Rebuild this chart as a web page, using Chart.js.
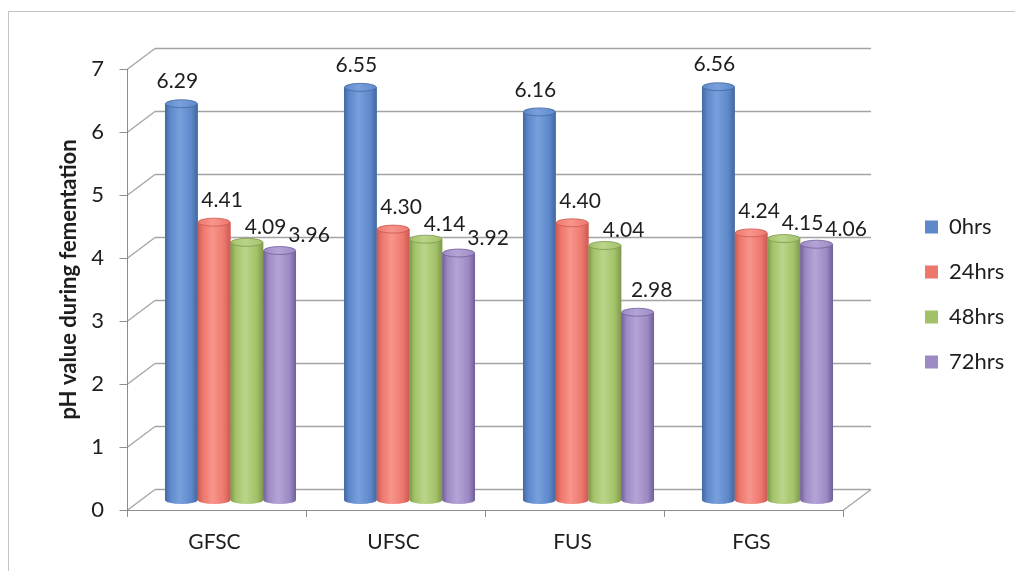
<!DOCTYPE html>
<html>
<head>
<meta charset="utf-8">
<script src="https://cdn.jsdelivr.net/npm/chart.js@4.4.1/dist/chart.umd.min.js"></script>
<style>
  html, body { margin: 0; padding: 0; background: #ffffff; }
  #wrap { width: 1015px; height: 571px; position: relative; }
</style>
</head>
<body>
<div id="wrap"><canvas id="chart" width="1015" height="571"></canvas></div>
<script>
// ---- data ----
const categories = ['GFSC', 'UFSC', 'FUS', 'FGS'];
const seriesNames = ['0hrs', '24hrs', '48hrs', '72hrs'];
const ph0hrs  = [6.29, 6.55, 6.16, 6.56];
const ph24hrs = [4.41, 4.30, 4.40, 4.24];
const ph48hrs = [4.09, 4.14, 4.04, 4.15];
const ph72hrs = [3.96, 3.92, 2.98, 4.06];
const yTicks  = [0, 1, 2, 3, 4, 5, 6, 7];

// ---- styling ----
const FONT = 'Lato';
const TEXT = '#1e1e1e';
const palette = [
  { mid: '#5d88ca', light: '#79a0dc', dark: '#44679f' },   // 0hrs
  { mid: '#ee776d', light: '#f8958b', dark: '#c85a52' },   // 24hrs
  { mid: '#a3c268', light: '#bad58a', dark: '#7e984c' },   // 48hrs
  { mid: '#9d89c4', light: '#b4a4d6', dark: '#715f98' }    // 72hrs
];
// depth offsets of the front and back planes relative to the bar plane
const FRONT = { dx: -14, dy: 10 };
const BACK  = { dx: 14, dy: -11 };

const PLOT_LEFT = 141, PLOT_RIGHT = 857, PLOT_TOP = 59, CANVAS_W = 1015;
const LEG = { font: 22, box: 13, pad: 23, left: 902, dy: 15 };

Chart.defaults.font.family = FONT;
Chart.defaults.color = TEXT;

// width the right-hand legend will claim, so the plot keeps its right edge
function legendWidth() {
  const c = document.createElement('canvas').getContext('2d');
  c.font = LEG.font + 'px ' + FONT;
  const tw = Math.max(...seriesNames.map(s => c.measureText(s).width));
  return LEG.pad + LEG.box + LEG.font / 2 + tw + 10;
}

function line(ctx, x1, y1, x2, y2) {
  ctx.beginPath(); ctx.moveTo(x1, y1); ctx.lineTo(x2, y2); ctx.stroke();
}

// outer frame of the figure
const outerFrame = {
  id: 'outerFrame',
  beforeDraw(chart) {
    const ctx = chart.ctx;
    ctx.save();
    ctx.fillStyle = '#ffffff';
    ctx.fillRect(0, 0, chart.width, chart.height);
    ctx.strokeStyle = '#c4c4c4';
    ctx.lineWidth = 1;
    ctx.strokeRect(8.5, 11.5, chart.width + 20, chart.height + 20);
    ctx.restore();
  }
};

// walls, floor and front axes of the 3-D box
const box3d = {
  id: 'box3d',
  beforeDatasetsDraw(chart) {
    const { ctx, chartArea: a } = chart;
    const ys = chart.scales.y, xs = chart.scales.x;
    const L = a.left, R = a.right;
    const p0 = Math.round(ys.getPixelForValue(0));
    const pTop = Math.round(ys.getPixelForValue(yTicks[yTicks.length - 1]));
    ctx.save();
    ctx.lineWidth = 1.3;
    ctx.strokeStyle = '#a4a4a4';
    yTicks.forEach(v => {
      const p = Math.round(ys.getPixelForValue(v)) + 0.5;
      line(ctx, L + BACK.dx, p + BACK.dy, R + BACK.dx, p + BACK.dy);
      line(ctx, L + FRONT.dx, p + FRONT.dy, L + BACK.dx, p + BACK.dy);
    });
    // right edge of the floor
    line(ctx, R + FRONT.dx, p0 + 0.5 + FRONT.dy, R + BACK.dx, p0 + 0.5 + BACK.dy);

    // front axes
    ctx.strokeStyle = '#8e8e8e';
    ctx.lineWidth = 1;
    const fx = L + FRONT.dx + 0.5;
    line(ctx, fx, pTop + FRONT.dy, fx, p0 + FRONT.dy + 0.5);
    line(ctx, fx, p0 + FRONT.dy + 0.5, R + FRONT.dx, p0 + FRONT.dy + 0.5);
    yTicks.forEach(v => {
      const p = Math.round(ys.getPixelForValue(v)) + 0.5 + FRONT.dy;
      line(ctx, fx - 8, p, fx, p);
    });
    const step = xs.getPixelForValue(1) - xs.getPixelForValue(0);
    for (let k = 0; k <= categories.length; k++) {
      const bx = Math.round(xs.getPixelForValue(0) - step / 2 + k * step + FRONT.dx) + 0.5;
      line(ctx, bx, p0 + FRONT.dy, bx, p0 + FRONT.dy + 7);
    }
    ctx.restore();
  }
};

// cylinder shading over each bar
const cylinders = {
  id: 'cylinders',
  afterDatasetsDraw(chart) {
    const ctx = chart.ctx;
    ctx.save();
    for (let i = 0; i < categories.length; i++) {
      chart.data.datasets.forEach((ds, di) => {
        const bar = chart.getDatasetMeta(di).data[i];
        if (!bar) return;
        const { x, y, base, width } = bar.getProps(['x', 'y', 'base', 'width'], true);
        const c = palette[di];
        const l = x - width / 2, r = x + width / 2, rx = width / 2, ry = 4;
        const g = ctx.createLinearGradient(l, 0, r, 0);
        g.addColorStop(0, c.dark);
        g.addColorStop(0.16, c.mid);
        g.addColorStop(0.45, c.light);
        g.addColorStop(0.8, c.mid);
        g.addColorStop(1, c.dark);
        ctx.fillStyle = g;
        ctx.beginPath();
        ctx.moveTo(l, y);
        ctx.lineTo(l, base);
        ctx.ellipse(x, base, rx, ry, 0, Math.PI, 0, true);
        ctx.lineTo(r, y);
        ctx.closePath();
        ctx.fill();
        // top cap
        const gc = ctx.createLinearGradient(l, 0, r, 0);
        gc.addColorStop(0, c.mid);
        gc.addColorStop(0.45, c.light);
        gc.addColorStop(1, c.mid);
        ctx.fillStyle = gc;
        ctx.strokeStyle = c.dark;
        ctx.lineWidth = 0.8;
        ctx.beginPath();
        ctx.ellipse(x, y, rx - 0.4, ry, 0, 0, Math.PI * 2);
        ctx.fill();
        ctx.stroke();
      });
    }
    ctx.restore();
  }
};

// value labels above the bars, nudged aside when they would collide
const valueLabels = {
  id: 'valueLabels',
  afterDatasetsDraw(chart) {
    const ctx = chart.ctx;
    const baseDx = [-4, 8, 14, 14];
    const lift = 22, dropped = 15, halfH = 8, margin = 10;
    ctx.save();
    ctx.font = '21px ' + FONT;
    ctx.fillStyle = TEXT;
    ctx.textAlign = 'center';
    ctx.textBaseline = 'middle';
    for (let i = 0; i < categories.length; i++) {
      let prev = null;
      chart.data.datasets.forEach((ds, di) => {
        const bar = chart.getDatasetMeta(di).data[i];
        const text = ds.data[i].toFixed(2);
        const w = ctx.measureText(text).width;
        let cx = bar.x + baseDx[di], cy = bar.y - lift;
        let b = { l: cx - w / 2, r: cx + w / 2, t: cy - halfH, b: cy + halfH };
        if (prev && b.l < prev.r && b.r > prev.l && b.t < prev.b + margin && b.b > prev.t - margin) {
          cx = prev.r + 2 + w / 2;
          cy = bar.y - dropped;
          b = { l: cx - w / 2, r: cx + w / 2, t: cy - halfH, b: cy + halfH };
        }
        ctx.fillText(text, cx, cy);
        prev = b;
      });
    }
    ctx.restore();
  }
};

// place the legend column beside the box
const legendPlace = {
  id: 'legendPlace',
  afterLayout(chart) {
    const lg = chart.legend;
    if (!lg) return;
    const dx = LEG.left - lg.left;
    lg.left += dx; lg.right += dx;
    lg.top += LEG.dy; lg.bottom += LEG.dy;
  }
};

const datasets = [ph0hrs, ph24hrs, ph48hrs, ph72hrs].map((vals, di) => ({
  label: seriesNames[di],
  data: vals,
  backgroundColor: palette[di].mid,
  borderWidth: 0,
  barPercentage: 1,
  categoryPercentage: 0.732
}));

new Chart(document.getElementById('chart'), {
  type: 'bar',
  data: { labels: categories, datasets },
  options: {
    responsive: false,
    animation: false,
    devicePixelRatio: 1,
    layout: {
      padding: { top: PLOT_TOP, left: 0, bottom: 0, right: CANVAS_W - PLOT_RIGHT - legendWidth() }
    },
    plugins: {
      legend: {
        position: 'right',
        fullSize: false,
        labels: {
          boxWidth: LEG.box,
          boxHeight: LEG.box,
          padding: LEG.pad,
          color: TEXT,
          font: { size: LEG.font }
        }
      },
      tooltip: { enabled: false }
    },
    scales: {
      x: {
        offset: true,
        grid: { display: false, drawTicks: false },
        border: { display: false },
        ticks: { font: { size: 21 }, color: TEXT, padding: 30, labelOffset: -16, maxRotation: 0 },
        afterFit(s) { s.height = 71; }
      },
      y: {
        min: 0,
        max: 7,
        grid: { display: false, drawTicks: false },
        border: { display: false },
        afterBuildTicks(s) { s.ticks = yTicks.map(v => ({ value: v })); },
        ticks: { font: { size: 22 }, color: TEXT, padding: 37, labelOffset: 10 },
        title: {
          display: true,
          text: 'pH value during fementation',
          color: TEXT,
          font: { size: 22, weight: 'bold' },
          padding: { top: 56, bottom: 0 }
        },
        afterFit(s) { s.width = PLOT_LEFT; }
      }
    }
  },
  plugins: [outerFrame, box3d, cylinders, valueLabels, legendPlace]
});
</script>
</body>
</html>
